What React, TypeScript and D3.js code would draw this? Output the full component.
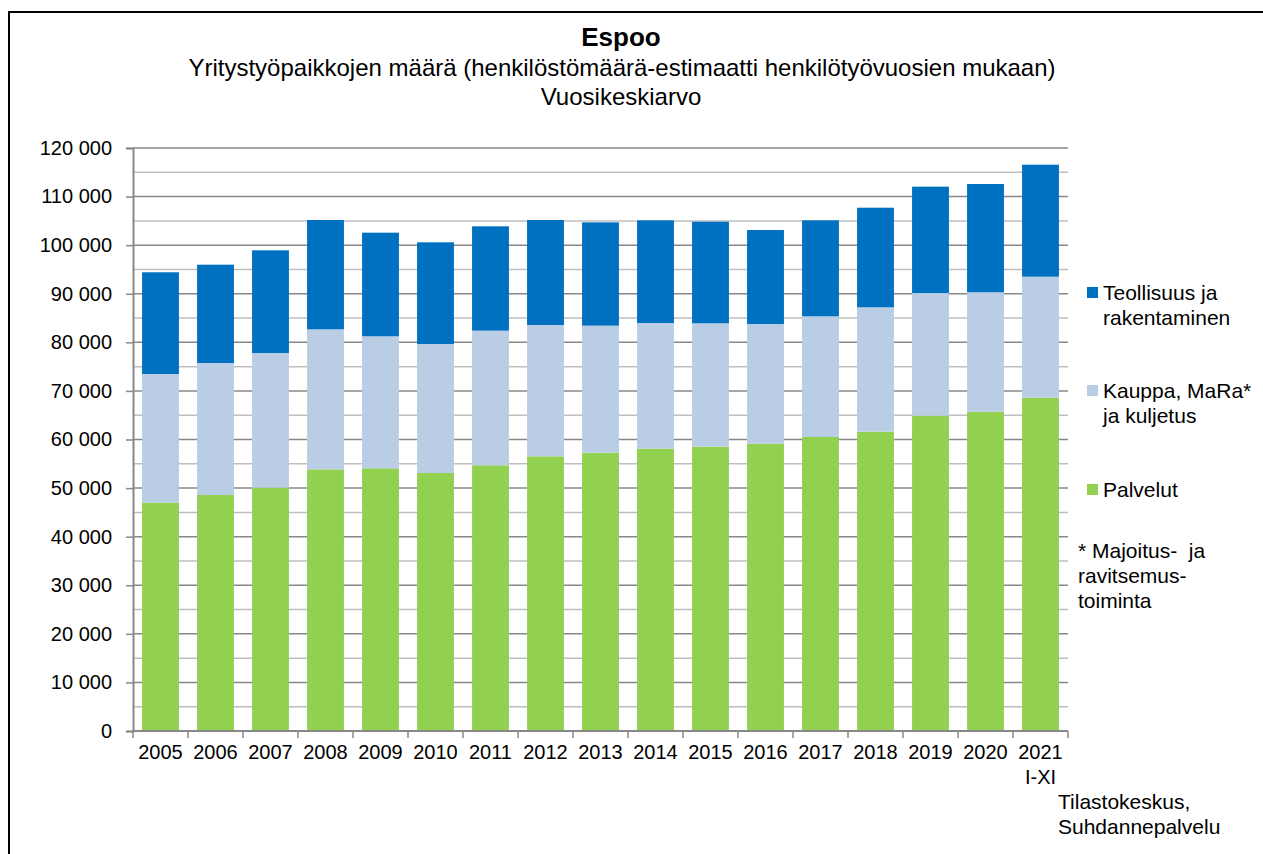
import React, { useEffect, useRef } from "react";
import * as d3 from "d3";

const years = ["2005", "2006", "2007", "2008", "2009", "2010", "2011", "2012", "2013", "2014", "2015", "2016", "2017", "2018", "2019", "2020", "2021"];
const palvelut = [46990, 48580, 50080, 53860, 54070, 53100, 54690, 56540, 57280, 58110, 58520, 59140, 60520, 61610, 64900, 65720, 68600];
const kauppa = [26490, 27170, 27720, 28820, 27170, 26560, 27710, 27030, 26150, 25870, 25390, 24630, 24830, 25600, 25250, 24580, 24910];
const teollisuus = [20940, 20230, 21140, 22500, 21330, 20930, 21480, 21610, 21270, 21130, 20920, 19350, 19760, 20500, 21890, 22290, 23050];
const yTicks = [0, 10000, 20000, 30000, 40000, 50000, 60000, 70000, 80000, 90000, 100000, 110000, 120000];

const App = () => {
  const svgRef = useRef(null);

  useEffect(() => {
    const width = 1263;
    const height = 854;
    const plot = { left: 133, right: 1068, top: 148, bottom: 731 };
    const colors = ["#92D050", "#B9CDE5", "#0070C0"];
    const font = "'Liberation Sans', Arial, sans-serif";

    const svg = d3.select(svgRef.current).attr("width", width).attr("height", height).style("font-family", font);
    svg.selectAll("*").remove();

    svg.append("rect").attr("width", width).attr("height", height).attr("fill", "#fff");

    // outer frame (only top and left visible)
    svg.append("path").attr("d", `M9,${height + 2} V12 H${width + 2}`).attr("fill", "none").attr("stroke", "#000").attr("stroke-width", 2);

    const x = d3.scaleBand().domain(years).range([plot.left, plot.right]).paddingInner(0.33).paddingOuter(0.165);
    const y = d3.scaleLinear().domain([0, 120000]).range([plot.bottom, plot.top]);

    // gridlines
    const grid = d3.range(0, 120001, 5000);
    svg.append("g")
      .selectAll("line")
      .data(grid.filter((d) => d > 0))
      .join("line")
      .attr("x1", plot.left)
      .attr("x2", plot.right)
      .attr("y1", (d) => y(d))
      .attr("y2", (d) => y(d))
      .attr("stroke", (d) => (d % 10000 === 0 ? "#888888" : "#bfbfbf"))
      .attr("stroke-width", 1.5);

    // stacked bars
    const rows = years.map((yr, i) => ({ year: yr, s0: palvelut[i], s1: kauppa[i], s2: teollisuus[i] }));
    const stack = d3.stack().keys(["s0", "s1", "s2"])(rows);

    svg.append("g")
      .selectAll("g")
      .data(stack)
      .join("g")
      .attr("fill", (_, i) => colors[i])
      .selectAll("rect")
      .data((d) => d)
      .join("rect")
      .attr("x", (d) => x(d.data.year))
      .attr("width", x.bandwidth())
      .attr("y", (d) => y(d[1]))
      .attr("height", (d) => y(d[0]) - y(d[1]));

    // axes
    const yAxis = svg.append("g").attr("transform", `translate(${plot.left},0)`)
      .call(d3.axisLeft(y).tickValues(yTicks).tickSize(7).tickPadding(14)
        .tickFormat((d) => d3.format(",")(d).replace(/,/g, " ")));
    yAxis.select(".domain").attr("stroke", "#888888").attr("stroke-width", 2);
    yAxis.selectAll(".tick line").attr("stroke", "#888888").attr("stroke-width", 1.5);
    yAxis.selectAll("text").attr("fill", "#000").style("font-size", "20px").style("font-family", font);

    const xAxisG = svg.append("g").attr("transform", `translate(0,${plot.bottom})`);
    xAxisG.append("line").attr("x1", plot.left).attr("x2", plot.right).attr("stroke", "#888888").attr("stroke-width", 2);
    const edges = years.map((yr) => x(yr) - (x.step() - x.bandwidth()) / 2).concat([plot.right]);
    xAxisG.selectAll("line.tk").data(edges).join("line").attr("class", "tk")
      .attr("x1", (d) => d).attr("x2", (d) => d).attr("y1", 0).attr("y2", 7)
      .attr("stroke", "#888888").attr("stroke-width", 1.5);
    xAxisG.selectAll("text.lbl").data(years).join("text").attr("class", "lbl")
      .attr("x", (d) => x(d) + x.bandwidth() / 2)
      .attr("y", 28)
      .attr("text-anchor", "middle")
      .style("font-size", "20px")
      .text((d) => d);
    xAxisG.append("text")
      .attr("x", x("2021") + x.bandwidth() / 2)
      .attr("y", 53)
      .attr("text-anchor", "middle")
      .style("font-size", "20px")
      .text("I-XI");

    // titles
    svg.append("text").attr("x", 621).attr("y", 46).attr("text-anchor", "middle")
      .style("font-size", "26px").style("font-weight", "bold").text("Espoo");
    svg.append("text").attr("x", 622).attr("y", 76).attr("text-anchor", "middle")
      .style("font-size", "24px").text("Yritystyöpaikkojen määrä (henkilöstömäärä-estimaatti henkilötyövuosien mukaan)");
    svg.append("text").attr("x", 621).attr("y", 105).attr("text-anchor", "middle")
      .style("font-size", "24px").text("Vuosikeskiarvo");

    // legend
    const legend = [
      { lines: ["Teollisuus ja", "rakentaminen"], color: colors[2], y: 292 },
      { lines: ["Kauppa, MaRa*", "ja kuljetus"], color: colors[1], y: 390 },
      { lines: ["Palvelut"], color: colors[0], y: 489 },
    ];
    const lg = svg.append("g");
    legend.forEach((it) => {
      lg.append("rect").attr("x", 1087).attr("y", it.y - 5).attr("width", 11).attr("height", 11).attr("fill", it.color);
      it.lines.forEach((t, j) => {
        lg.append("text").attr("x", 1103).attr("y", it.y + 8 + j * 25).style("font-size", "21px").text(t);
      });
    });
    ["* Majoitus-  ja", "ravitsemus-", "toiminta"].forEach((t, j) => {
      lg.append("text").attr("x", 1078).attr("y", 558 + j * 25).style("font-size", "21px").style("white-space", "pre").text(t);
    });

    // source
    ["Tilastokeskus,", "Suhdannepalvelu"].forEach((t, j) => {
      svg.append("text").attr("x", 1058).attr("y", 809 + j * 25).style("font-size", "21px").text(t);
    });
  }, []);

  return (
    <div style={{ position: "absolute", left: 0, top: 0 }}>
      <svg ref={svgRef} style={{ display: "block" }}></svg>
    </div>
  );
};

export default App;
